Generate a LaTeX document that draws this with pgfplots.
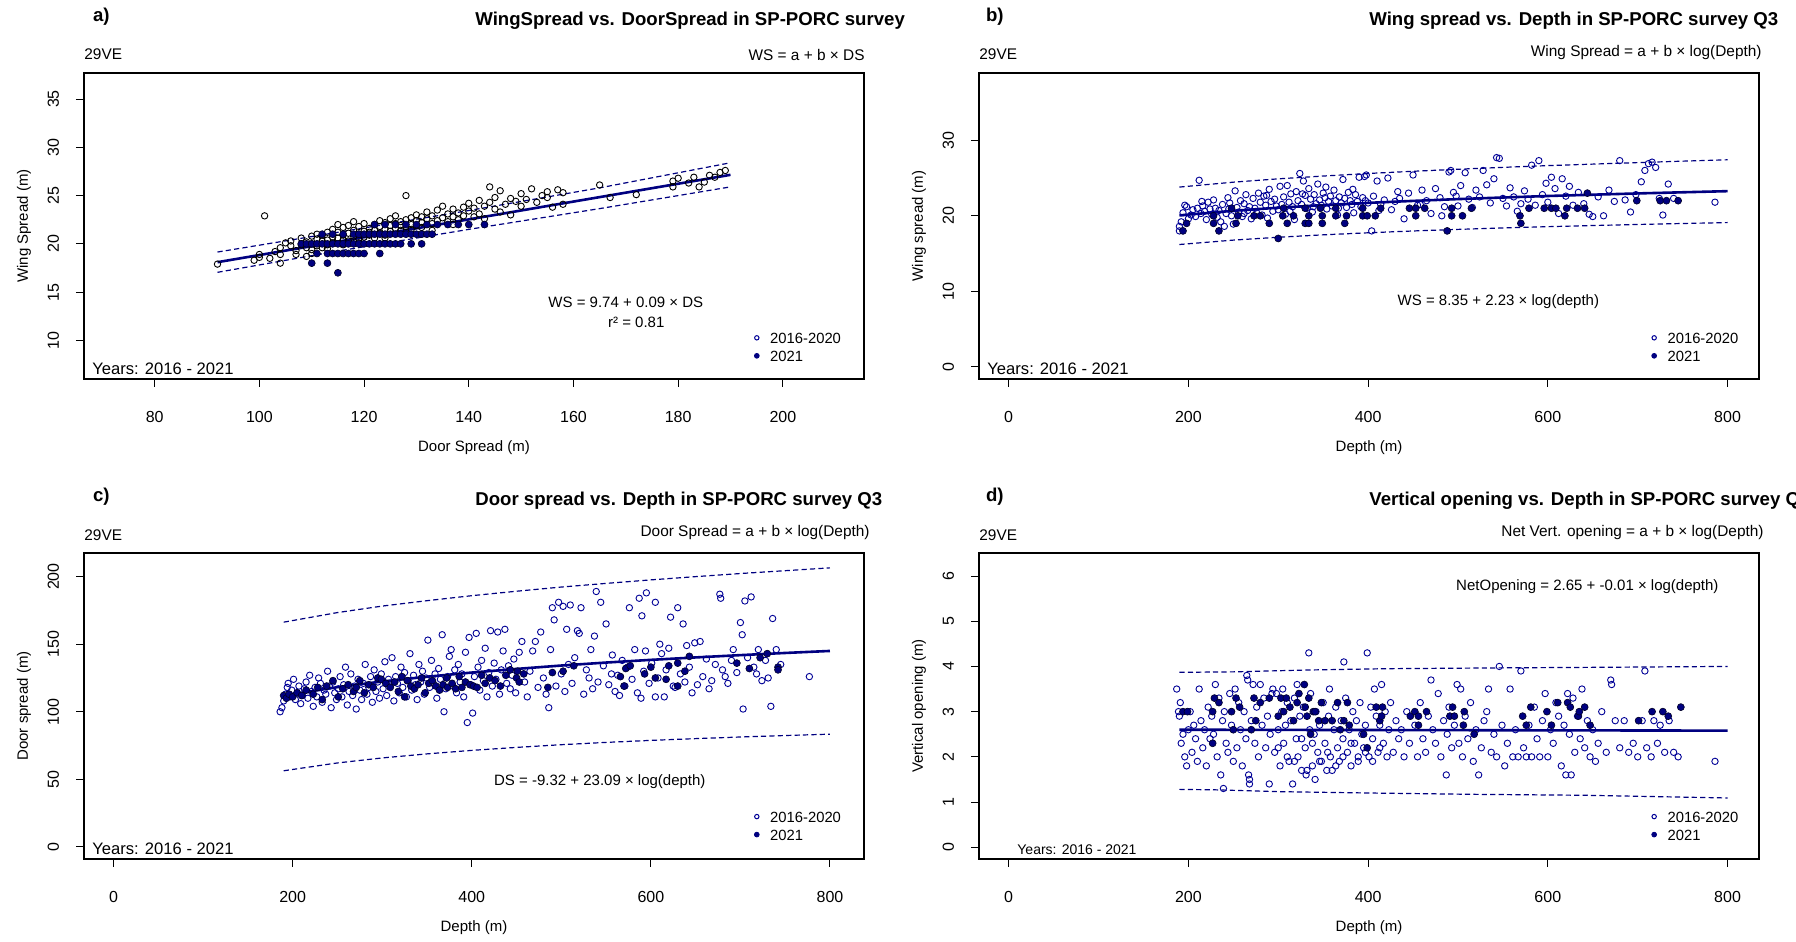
\documentclass[border=0pt]{standalone}
\usepackage{fontspec}
\setmainfont{Liberation Sans}
\usepackage{pgfplots}
\pgfplotsset{compat=1.18}
\definecolor{navy}{RGB}{0,0,128}
\definecolor{dkblue}{RGB}{0,0,150}
\newcommand{\fs}[1]{\fontsize{#1}{#1}\selectfont}
\tikzset{years/.style={anchor=base west, inner sep=0pt, font=\fs{8.3}, xshift=4pt, yshift=2pt}}
\pgfplotsset{
 rstyle/.style={
  scale only axis, width=390pt, height=153pt,
  /pgf/number format/assume math mode=true,
  axis line style={line width=0.7pt},
  tick align=outside, xtick pos=bottom, ytick pos=left,
  major tick length=4pt, tick style={black, line width=0.5pt},
  ticklabel style={font=\fs{8}},
  xticklabel shift=8.5pt, yticklabel shift=5pt,
  yticklabel style={rotate=90, anchor=south},
  xlabel style={font=\fs{7.5}, at={(axis description cs:0.5,-0.225)}, anchor=center},
  ylabel style={font=\fs{7.5}, at={(axis description cs:-0.077,0.5)}, anchor=center},
  legend style={draw=none, fill=none, font=\fs{7.4}, inner sep=0pt, row sep=1pt,
     nodes={inner sep=1pt, text height=6pt, text depth=0pt}, legend cell align=left,
     /tikz/every odd column/.append style={column sep=4.5pt}},
  legend image code/.code={\draw[#1] plot coordinates {(0.1cm,0cm)};},
 },
 openb/.style={only marks, mark=o, mark size=1.6pt, draw=dkblue, mark options={line width=0.45pt}},
 openk/.style={only marks, mark=o, mark size=1.6pt, draw=black, mark options={line width=0.45pt}},
 filled/.style={only marks, mark=*, mark size=1.75pt, navy, mark options={draw=black!70!navy, line width=0.3pt}},
 fit/.style={navy, line width=1.3pt, no marks},
 band/.style={navy, line width=0.6pt, dash pattern=on 2.6pt off 1.6pt, no marks},
}
\newcommand{\leg}{%
 \addlegendimage{only marks, mark=o, mark size=1.1pt, draw=dkblue, mark options={line width=0.5pt}}
 \addlegendentry{2016-2020}
 \addlegendimage{only marks, mark=*, mark size=1.2pt, navy}
 \addlegendentry{2021}}
\begin{document}
\begin{tikzpicture}
\useasboundingbox (0,0) rectangle (898pt,471pt);
% ---------------- a) ----------------
\begin{axis}[rstyle, at={(42pt,281.5pt)}, anchor=south west,
  xmin=66.5, xmax=215.5, ymin=6, ymax=37.7,
  xtick={80,100,...,200}, ytick={10,15,...,35},
  xlabel={Door Spread (m)}, ylabel={Wing Spread (m)},
  legend style={at={(rel axis cs:0.859,0.162)}, anchor=north west}]
\leg
\addplot[openk, forget plot] coordinates {(92,17.9)(99,18.3)(100,18.6)(100,18.9)(101,22.9)(102,18.5)(103,19.2)(104,19.6)(104,18.9)(105,20.1)(106,19.8)(106,20.3)(107,19.3)(107,18.9)(108,20.6)(108,19.9)(109,19.6)(109,20.2)(110,20.0)(110,20.8)(110,19.4)(111,20.5)(111,21.0)(111,19.8)(112,20.3)(112,20.9)(112,19.6)(113,21.2)(113,20.4)(113,19.9)(114,20.7)(114,21.5)(114,20.1)(115,22.0)(115,20.6)(115,21.2)(116,20.4)(116,21.7)(116,20.9)(117,21.1)(117,20.3)(117,21.9)(118,20.8)(118,21.4)(118,22.3)(119,21.0)(119,20.5)(119,21.8)(120,21.3)(120,20.7)(120,22.1)(121,21.6)(121,20.9)(121,21.2)(122,22.0)(122,21.4)(122,20.6)(123,21.8)(123,22.4)(123,21.1)(124,21.5)(124,22.2)(124,20.9)(125,21.9)(125,22.6)(125,21.3)(126,22.1)(126,21.6)(126,22.9)(127,22.3)(127,21.4)(127,21.9)(128,22.5)(128,21.8)(128,25.0)(129,22.0)(129,22.7)(129,21.5)(130,22.4)(130,21.9)(130,23.0)(131,22.2)(131,22.8)(131,21.7)(132,22.6)(132,23.3)(133,22.1)(133,22.9)(134,23.5)(134,22.4)(135,22.7)(135,23.9)(136,22.3)(136,23.1)(137,22.8)(137,23.6)(138,23.2)(138,22.5)(139,23.8)(139,22.9)(140,23.4)(140,24.2)(141,22.8)(141,23.7)(142,24.5)(142,23.1)(143,23.9)(143,22.6)(144,24.3)(144,25.9)(145,23.6)(145,24.8)(146,23.3)(146,25.5)(147,24.1)(148,24.7)(148,23.0)(149,24.4)(150,25.2)(150,23.9)(151,24.6)(152,25.7)(153,24.3)(154,25.0)(155,24.8)(155,25.4)(156,23.8)(157,25.6)(158,25.3)(158,24.1)(165,26.1)(167,24.8)(172,25.1)(179,26.5)(179,25.9)(180,26.8)(182,26.3)(183,26.9)(185,26.4)(186,27.1)(187,26.9)(188,27.4)(189,27.6)(184,25.9)(110,19.0)(113,19.5)(116,19.9)(104,18.0)(109,18.7)(119,20.1)(124,20.6)(133,21.4)(137,22.0)};
\addplot[filled, forget plot] coordinates {(115,17)(110,18)(113,18)(111,19)(113,19)(114,19)(115,19)(116,19)(117,19)(118,19)(119,19)(120,19)(123,19)(108,20)(109,20)(110,20)(111,20)(112,20)(113,20)(114,20)(115,20)(116,20)(117,20)(118,20)(119,20)(120,20)(121,20)(122,20)(123,20)(124,20)(125,20)(126,20)(127,20)(129,20)(131,20)(112,21)(114,21)(116,21)(118,21)(119,21)(120,21)(121,21)(122,21)(123,21)(124,21)(125,21)(126,21)(127,21)(128,21)(129,21)(130,21)(131,21)(132,21)(133,21)(122,22)(124,22)(126,22)(128,22)(130,22)(132,22)(134,22)(136,22)(138,22)(140,22)(143,22)};
\addplot[fit, forget plot] coordinates {(92,18.1)(190,27.15)};
\addplot[band, forget plot] coordinates {(92,19.15)(115,21.2)(140,23.45)(165,25.8)(190,28.4)};
\addplot[band, forget plot] coordinates {(92,17.05)(115,19.25)(140,21.5)(165,23.65)(190,25.9)};
\node[font=\fs{7.5}] at (axis cs:170,13.9) {WS = 9.74 + 0.09 × DS};
\node[font=\fs{7.5}] at (axis cs:172,11.9) {r² = 0.81};
\node[years] at (rel axis cs:0,0) {Years: 2016 - 2021};
\end{axis}
% ---------------- b) ----------------
\begin{axis}[rstyle, at={(489.5pt,281.5pt)}, anchor=south west,
  xmin=-33, xmax=835, ymin=-1.6, ymax=38.9,
  xtick={0,200,...,800}, ytick={0,10,20,30},
  xlabel={Depth (m)}, ylabel={Wing spread (m)},
  legend style={at={(rel axis cs:0.862,0.162)}, anchor=north west}]
\leg
\addplot[openb, forget plot] coordinates {(190,18.0)(190,18.6)(192,19.2)(194,20.4)(196,21.4)(198,21.2)(200,19.6)(203,20.1)(205,20.8)(208,19.9)(210,21.0)(212,24.7)(214,20.3)(216,21.3)(218,20.6)(220,19.5)(222,21.8)(224,20.9)(226,20.2)(228,22.1)(230,21.0)(232,19.8)(234,20.7)(236,19.2)(238,21.5)(240,18.6)(242,20.3)(244,22.4)(246,21.7)(248,20.0)(250,18.9)(252,23.3)(254,21.1)(256,20.5)(258,22.0)(260,19.9)(262,21.6)(264,22.8)(266,20.7)(268,21.2)(270,19.6)(272,22.3)(274,21.0)(276,20.4)(278,23.0)(280,21.8)(282,20.1)(284,22.6)(286,21.4)(288,19.7)(290,23.5)(292,21.9)(294,20.6)(296,22.2)(298,21.3)(300,20.8)(302,23.9)(304,21.5)(306,22.5)(308,20.2)(310,24.0)(312,21.8)(314,22.9)(316,21.2)(318,19.5)(320,23.2)(322,22.0)(324,25.6)(326,21.5)(328,24.6)(330,22.7)(332,21.0)(334,23.6)(336,22.2)(338,20.5)(340,22.8)(342,21.6)(344,24.2)(346,22.1)(348,21.4)(350,23.0)(352,22.4)(354,20.9)(356,21.9)(358,22.6)(360,21.3)(362,23.4)(364,22.0)(366,20.1)(368,22.5)(370,21.7)(372,24.8)(374,22.3)(376,21.1)(378,23.1)(380,22.0)(382,21.5)(384,20.4)(386,22.8)(388,21.9)(390,25.1)(392,21.2)(394,22.4)(396,25.2)(398,25.4)(400,21.7)(404,18.0)(406,22.6)(410,24.6)(414,21.5)(418,22.1)(422,25.0)(426,20.8)(430,21.9)(435,22.3)(440,19.6)(445,23.0)(450,25.4)(455,21.4)(460,23.4)(465,22.0)(470,20.3)(475,23.6)(480,22.4)(485,21.2)(490,25.8)(492,26.0)(495,23.1)(498,22.6)(500,21.3)(503,24.0)(508,25.7)(512,22.2)(516,21.1)(520,23.4)(524,22.5)(528,26.0)(532,24.1)(536,21.7)(540,24.9)(543,27.7)(546,27.6)(550,22.3)(554,21.3)(558,23.7)(562,22.5)(566,20.6)(570,21.6)(574,23.3)(578,22.2)(582,26.7)(586,21.4)(590,27.3)(594,22.8)(598,24.3)(600,21.8)(604,25.1)(608,23.6)(612,20.3)(616,24.9)(620,22.6)(624,23.9)(628,21.4)(634,23.1)(640,21.6)(646,20.2)(650,19.9)(656,22.5)(662,20.0)(668,23.4)(674,21.9)(680,27.3)(686,22.1)(692,20.5)(698,22.8)(704,24.5)(708,26.0)(712,26.9)(716,27.1)(720,26.4)(724,22.3)(728,20.1)(734,24.2)(740,22.3)(786,21.8)(215,21.9)(245,20.9)(262,20.3)(287,22.7)(313,20.6)(327,22.9)(339,21.2)(353,23.8)(367,21.0)(383,23.5)(397,22.0)(412,20.7)(433,23.2)(458,21.5)(482,20.0)};
\addplot[filled, forget plot] coordinates {(248,21)(306,21)(330,21)(347,21)(364,21)(394,21)(414,21)(446,21)(453,21)(463,21)(493,21)(515,21)(579,21)(596,21)(604,21)(609,21)(621,21)(633,21)(641,21)(699,22)(725,22)(732,22)(745,22)(644,23)(228,20)(255,20)(273,20)(280,20)(305,20)(317,20)(334,20)(349,20)(364,20)(376,20)(394,20)(399,20)(408,20)(453,20)(493,20)(505,20)(569,20)(619,20)(198,19)(228,19)(253,19)(290,19)(310,19)(330,19)(334,19)(349,19)(374,19)(570,19)(194,18)(234,18)(488,18)(300,17)};
\addplot[fit, forget plot] coordinates {(190,20.05)(200,20.16)(250,20.66)(300,21.07)(350,21.41)(400,21.71)(450,21.97)(500,22.21)(550,22.42)(600,22.62)(650,22.79)(700,22.96)(750,23.11)(800,23.26)};
\addplot[band, forget plot] coordinates {(190,23.80)(250,24.45)(300,24.89)(350,25.26)(400,25.60)(450,25.89)(500,26.16)(550,26.41)(600,26.64)(650,26.84)(700,27.04)(750,27.23)(800,27.41)};
\addplot[band, forget plot] coordinates {(190,16.20)(250,16.78)(300,17.16)(350,17.48)(400,17.75)(450,17.99)(500,18.20)(550,18.39)(600,18.56)(650,18.71)(700,18.85)(750,18.98)(800,19.10)};
\node[font=\fs{7.5}] at (axis cs:545,8.67) {WS = 8.35 + 2.23 × log(depth)};
\node[years] at (rel axis cs:0,0) {Years: 2016 - 2021};
\end{axis}
% ---------------- c) ----------------
\begin{axis}[rstyle, at={(42pt,41.5pt)}, anchor=south west,
  xmin=-33, xmax=838, ymin=-9, ymax=217.5,
  xtick={0,200,...,800}, ytick={0,50,...,200},
  xlabel={Depth (m)}, ylabel={Door spread (m)},
  legend style={at={(rel axis cs:0.859,0.166)}, anchor=north west}]
\leg
\addplot[openb, forget plot] coordinates {(186,100)(188,103)(190,108)(192,113)(194,118)(195,121)(197,111)(199,116)(201,124)(203,109)(205,114)(207,119)(209,106)(211,112)(213,117)(215,122)(217,110)(219,127)(221,115)(223,104)(225,118)(227,111)(229,125)(231,121)(233,107)(235,116)(237,113)(239,130)(241,119)(243,103)(245,122)(247,114)(249,109)(251,117)(253,126)(255,111)(257,120)(259,133)(261,105)(263,115)(265,128)(267,112)(269,119)(271,102)(273,124)(275,116)(277,109)(279,121)(281,135)(283,113)(285,118)(287,126)(289,107)(291,131)(293,115)(295,122)(297,110)(299,128)(301,117)(303,137)(305,112)(307,124)(309,119)(311,140)(313,108)(315,126)(317,121)(319,114)(321,133)(323,118)(325,129)(327,111)(329,123)(331,143)(333,116)(335,127)(337,120)(339,109)(341,135)(343,122)(345,130)(347,113)(349,125)(351,153)(353,118)(355,138)(357,121)(359,128)(361,110)(363,132)(365,124)(367,157)(369,100)(371,117)(373,126)(375,141)(377,146)(379,119)(381,131)(383,114)(385,135)(387,122)(389,128)(391,111)(393,144)(395,92)(397,155)(399,120)(401,99)(403,126)(405,158)(407,133)(409,116)(411,138)(413,123)(415,147)(417,111)(419,129)(421,160)(423,119)(425,136)(427,124)(429,159)(431,113)(433,131)(435,145)(437,161)(439,121)(441,134)(443,117)(445,127)(447,139)(449,114)(453,144)(456,152)(459,122)(462,111)(465,130)(468,145)(471,152)(474,118)(477,159)(480,125)(483,113)(486,103)(488,146)(490,177)(492,168)(494,119)(497,181)(500,128)(502,178)(504,115)(506,161)(508,135)(510,179)(512,121)(515,140)(518,160)(520,158)(522,177)(525,113)(528,131)(531,125)(533,146)(535,117)(537,156)(539,189)(541,122)(544,181)(547,134)(550,165)(553,120)(556,128)(557,142)(560,115)(563,127)(565,112)(568,138)(571,119)(574,133)(576,177)(579,124)(582,146)(585,114)(587,184)(589,110)(590,171)(592,130)(594,145)(595,188)(598,121)(601,136)(605,111)(605,181)(608,125)(610,150)(612,143)(615,111)(617,131)(620,147)(622,170)(625,119)(627,118)(630,177)(633,128)(636,165)(638,122)(640,149)(643,133)(646,114)(649,151)(652,120)(655,152)(658,126)(662,139)(665,117)(668,123)(672,135)(677,187)(678,184)(680,131)(683,126)(686,121)(690,138)(692,146)(696,129)(700,166)(702,157)(703,102)(705,182)(708,140)(712,185)(715,133)(718,128)(720,146)(724,123)(728,138)(731,125)(734,104)(736,169)(740,146)(745,135)(777,126)};
\addplot[filled, forget plot] coordinates {(190,112)(193,110)(196,113)(200,111)(205,114)(210,112)(215,116)(223,113)(228,118)(233,109)(238,119)(245,123)(251,111)(256,117)(262,120)(268,115)(271,118)(275,123)(280,114)(285,120)(290,118)(295,125)(299,124)(304,121)(309,118)(314,122)(318,115)(322,126)(325,111)(328,123)(332,119)(336,117)(340,120)(344,125)(348,114)(352,121)(356,123)(360,119)(364,116)(368,120)(372,125)(373,118)(378,121)(382,117)(386,126)(389,118)(393,122)(398,120)(402,119)(406,118)(411,127)(415,121)(420,125)(426,123)(432,119)(438,127)(443,131)(451,130)(450,125)(453,122)(458,128)(485,118)(490,129)(502,130)(514,134)(566,126)(570,119)(572,132)(577,134)(593,128)(600,133)(605,125)(617,124)(620,134)(630,119)(630,136)(638,130)(643,141)(696,136)(710,132)(722,140)(730,143)(742,133)(742,131)};
\addplot[fit, forget plot] coordinates {(190,111.8)(200,113.0)(250,118.2)(300,122.4)(350,125.9)(400,129.0)(450,131.7)(500,134.2)(550,136.4)(600,138.4)(650,140.2)(700,141.9)(750,143.5)(800,145.0)};
\addplot[band, forget plot] coordinates {(190,166.3)(250,173.4)(300,178.2)(350,182.2)(400,185.9)(450,189.2)(500,192.3)(550,195.0)(600,197.6)(650,200.0)(700,202.3)(750,204.4)(800,206.5)};
\addplot[band, forget plot] coordinates {(190,56.3)(250,62.1)(300,65.8)(350,68.8)(400,71.4)(450,73.6)(500,75.6)(550,77.3)(600,78.8)(650,80.1)(700,81.3)(750,82.4)(800,83.4)};
\node[font=\fs{7.5}] at (axis cs:543,48.6) {DS = -9.32 + 23.09 × log(depth)};
\node[years] at (rel axis cs:0,0) {Years: 2016 - 2021};
\end{axis}
% ---------------- d) ----------------
\begin{axis}[rstyle, at={(489.5pt,41.5pt)}, anchor=south west,
  xmin=-33, xmax=835, ymin=-0.26, ymax=6.51,
  xtick={0,200,...,800}, ytick={0,1,...,6},
  xlabel={Depth (m)}, ylabel={Vertical opening (m)},
  legend style={at={(rel axis cs:0.862,0.166)}, anchor=north west}]
\leg
\addplot[openb, forget plot] coordinates {(187,3.5)(189,3.0)(190,2.9)(191,3.2)(192,2.3)(194,2.5)(196,2.0)(198,1.8)(200,2.6)(202,3.0)(204,2.1)(206,2.7)(208,2.4)(210,1.9)(212,3.5)(214,2.8)(216,2.2)(218,2.6)(220,1.8)(222,3.1)(224,2.4)(226,2.9)(228,2.5)(230,3.6)(232,2.0)(234,3.3)(236,1.6)(238,2.8)(239,1.3)(240,3.0)(242,2.3)(244,2.1)(246,3.4)(248,2.7)(250,1.9)(252,3.5)(254,2.2)(256,3.2)(258,2.6)(260,1.8)(262,3.0)(264,2.4)(265,3.8)(266,3.7)(267,1.6)(268,1.4)(268,1.5)(270,2.8)(272,3.6)(274,2.3)(276,3.1)(278,2.0)(280,3.6)(282,2.7)(284,3.3)(286,2.2)(288,2.9)(290,1.4)(291,2.5)(293,3.4)(294,3.5)(296,2.1)(298,3.4)(300,2.6)(302,1.8)(304,3.0)(305,3.5)(306,2.3)(308,2.7)(310,3.2)(312,1.9)(314,2.8)(316,1.4)(318,3.3)(320,2.4)(321,3.6)(322,2.0)(324,2.9)(326,1.7)(328,3.1)(330,2.2)(331,1.6)(332,1.7)(334,4.3)(335,2.6)(336,3.4)(338,1.8)(340,2.5)(341,1.5)(342,3.0)(344,2.1)(346,2.7)(348,1.9)(350,3.2)(352,2.3)(354,1.7)(356,2.9)(357,3.5)(358,2.0)(360,1.7)(362,2.6)(364,3.1)(366,2.2)(368,1.9)(370,2.8)(372,2.4)(373,4.1)(375,3.3)(377,2.1)(379,2.6)(381,1.8)(383,3.0)(385,2.3)(387,2.8)(389,2.0)(391,3.2)(393,2.5)(395,2.2)(397,2.7)(399,4.3)(401,2.0)(403,3.1)(405,2.4)(407,3.5)(409,2.9)(411,2.1)(413,2.7)(415,3.6)(417,2.3)(419,3.0)(421,2.0)(423,2.6)(425,3.2)(428,2.1)(431,2.8)(434,2.4)(437,2.6)(440,2.0)(443,3.0)(446,2.3)(452,2.7)(455,2.0)(458,3.2)(461,2.4)(464,2.1)(467,2.9)(470,3.7)(472,2.6)(475,2.3)(478,3.4)(481,2.0)(484,2.8)(487,1.6)(488,2.5)(490,3.1)(493,2.2)(496,2.7)(499,3.6)(501,2.3)(503,3.5)(505,2.0)(508,2.9)(511,2.4)(514,3.2)(517,1.9)(520,2.6)(523,1.6)(526,2.2)(529,2.8)(532,3.0)(534,3.5)(537,2.1)(540,2.5)(543,2.0)(546,4.0)(549,2.7)(552,1.8)(555,2.3)(558,3.5)(561,2.0)(564,2.6)(567,2.0)(570,3.9)(573,2.2)(576,2.0)(579,2.7)(582,2.0)(585,3.1)(588,2.4)(591,2.0)(594,2.8)(597,3.4)(600,2.0)(603,2.6)(606,2.3)(609,3.2)(612,2.9)(615,1.8)(618,2.7)(620,1.6)(622,3.4)(624,2.5)(626,1.6)(628,3.3)(630,2.1)(633,2.9)(636,2.4)(638,3.5)(641,2.2)(644,2.8)(647,2.0)(650,2.6)(653,1.9)(656,2.3)(660,3.0)(665,2.1)(670,3.7)(671,3.6)(675,2.8)(680,2.2)(685,2.8)(690,2.1)(695,2.3)(700,2.0)(705,2.8)(708,3.9)(710,2.2)(715,2.0)(718,2.8)(722,2.3)(725,2.7)(730,2.1)(735,2.8)(740,2.1)(745,2.0)(786,1.9)(300,2.2)(310,2.0)(318,1.9)(326,2.4)(338,2.3)(346,1.9)(355,2.1)(364,1.8)(372,2.0)(381,2.3)(389,1.9)(397,2.1)(405,1.9)(413,2.2)};
\addplot[filled, forget plot] coordinates {(194,3.0)(199,3.0)(227,3.0)(227,2.3)(229,3.3)(234,3.2)(248,3.0)(250,2.6)(253,3.3)(257,3.1)(270,2.6)(273,3.3)(275,2.8)(280,3.2)(290,3.3)(300,2.9)(303,3.3)(306,3.0)(309,3.3)(313,3.1)(317,2.8)(321,3.2)(323,3.4)(329,3.6)(330,3.1)(332,2.9)(334,3.3)(336,2.5)(339,3.0)(341,3.0)(345,2.8)(348,3.2)(352,2.8)(360,2.8)(366,3.2)(369,2.6)(373,2.8)(377,3.2)(379,2.7)(395,2.5)(399,2.2)(409,3.1)(413,2.8)(415,2.9)(416,3.1)(447,2.9)(452,3.0)(456,2.9)(456,2.7)(465,3.0)(491,2.9)(494,3.1)(496,2.9)(507,3.0)(506,2.7)(518,2.5)(572,2.9)(576,2.7)(581,3.1)(599,3.0)(604,2.7)(611,3.2)(622,3.2)(625,3.1)(634,2.9)(635,3.0)(641,3.1)(647,2.7)(701,2.8)(716,3.0)(728,3.0)(734,2.9)(748,3.1)};
\addplot[fit, forget plot] coordinates {(190,2.60)(800,2.58)};
\addplot[band, forget plot] coordinates {(190,3.87)(250,3.88)(330,3.92)(420,3.95)(560,3.97)(650,3.98)(800,4.0)};
\addplot[band, forget plot] coordinates {(190,1.28)(230,1.27)(300,1.23)(400,1.2)(520,1.17)(640,1.15)(800,1.09)};
\node[font=\fs{7.5}] at (axis cs:644,5.77) {NetOpening = 2.65 + -0.01 × log(depth)};
\node[years, font=\fs{7}, xshift=15pt, yshift=0.2pt] at (rel axis cs:0,0) {Years: 2016 - 2021};
\end{axis}
% ---------------- outer texts ----------------
\node[anchor=west, font=\fs{9.3}\bfseries] at (43pt,462.5pt) {a)};
\node[anchor=west, font=\fs{9.3}\bfseries] at (489.5pt,462.5pt) {b)};
\node[anchor=west, font=\fs{9.3}\bfseries] at (43pt,222.5pt) {c)};
\node[anchor=west, font=\fs{9.3}\bfseries] at (489.5pt,222.5pt) {d)};
\node[anchor=west, inner sep=0pt, font=\fs{9.3}\bfseries] at (237.5pt,460.7pt) {WingSpread vs. DoorSpread in SP-PORC survey};
\node[anchor=west, inner sep=0pt, font=\fs{9.3}\bfseries] at (684.5pt,460.7pt) {Wing spread vs. Depth in SP-PORC survey Q3};
\node[anchor=west, inner sep=0pt, font=\fs{9.3}\bfseries] at (237.5pt,220.7pt) {Door spread vs. Depth in SP-PORC survey Q3};
\node[anchor=west, inner sep=0pt, font=\fs{9.3}\bfseries] at (684.5pt,220.7pt) {Vertical opening vs. Depth in SP-PORC survey Q3};
\node[anchor=west, inner sep=0pt, font=\fs{7.7}] at (42pt,444pt) {29VE};
\node[anchor=west, inner sep=0pt, font=\fs{7.7}] at (489.5pt,444pt) {29VE};
\node[anchor=west, inner sep=0pt, font=\fs{7.7}] at (42pt,203.5pt) {29VE};
\node[anchor=west, inner sep=0pt, font=\fs{7.7}] at (489.5pt,203.5pt) {29VE};
\node[anchor=east, inner sep=0pt, font=\fs{7.7}] at (432.5pt,443.5pt) {WS = a + b × DS};
\node[anchor=east, inner sep=0pt, font=\fs{7.7}] at (881pt,444.6pt) {Wing Spread = a + b × log(Depth)};
\node[anchor=east, inner sep=0pt, font=\fs{7.7}] at (435pt,204.7pt) {Door Spread = a + b × log(Depth)};
\node[anchor=east, inner sep=0pt, font=\fs{7.7}] at (882pt,204.7pt) {Net Vert. opening = a + b × log(Depth)};
\end{tikzpicture}
\end{document}
